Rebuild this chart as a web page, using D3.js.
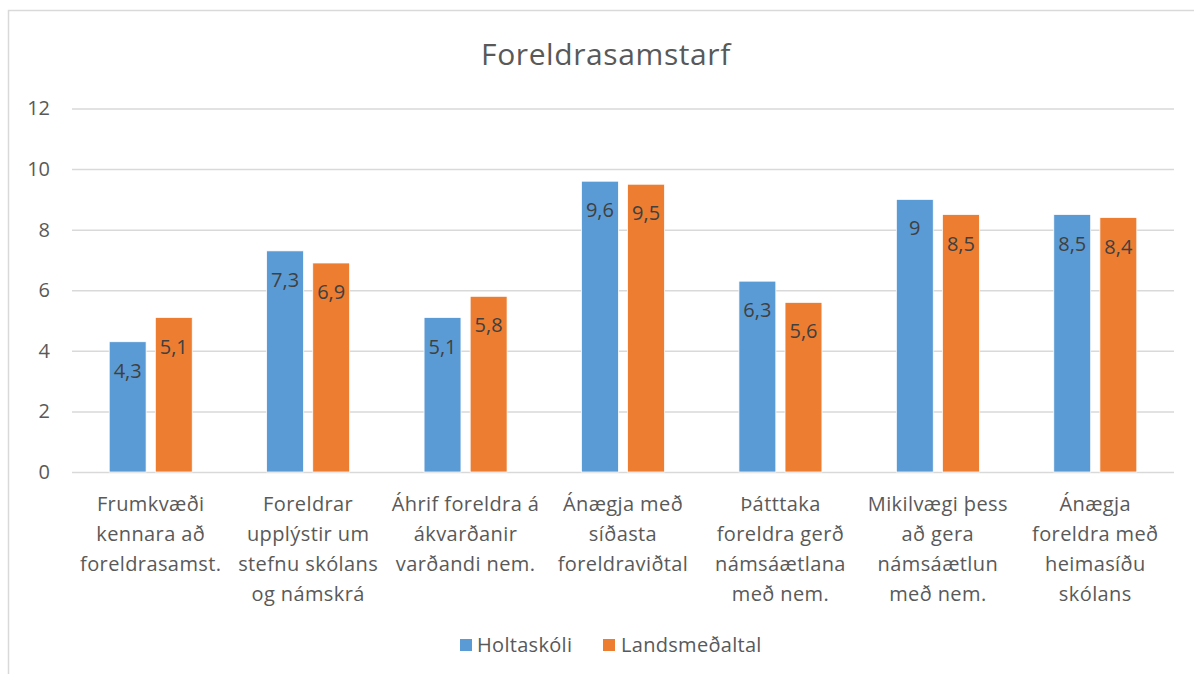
<!DOCTYPE html>
<html><head><meta charset="utf-8">
<script src="https://cdn.jsdelivr.net/npm/d3@7"></script>
<style>body{margin:0;background:#fff}svg{display:block;font-family:"Open Sans",sans-serif}</style>
</head><body>
<svg id="c" width="1194" height="674"></svg>
<script>
const categories = [
  ["Frumkvæði","kennara að","foreldrasamst."],
  ["Foreldrar","upplýstir um","stefnu skólans","og námskrá"],
  ["Áhrif foreldra á","ákvarðanir","varðandi nem."],
  ["Ánægja með","síðasta","foreldraviðtal"],
  ["Þátttaka","foreldra gerð","námsáætlana","með nem."],
  ["Mikilvægi þess","að gera","námsáætlun","með nem."],
  ["Ánægja","foreldra með","heimasíðu","skólans"]
];
const seriesNames = ["Holtaskóli","Landsmeðaltal"];
const holtaskoli = [4.3,7.3,5.1,9.6,6.3,9,8.5];
const landsmedaltal = [5.1,6.9,5.8,9.5,5.6,8.5,8.4];
const yTicks = [0,2,4,6,8,10,12];
const colors = ["#5B9BD5","#ED7D31"];
const title = "Foreldrasamstarf";

const svg = d3.select("#c");
// outer frame
svg.append("rect").attr("x",8.5).attr("y",10.5).attr("width",1200).attr("height",700)
  .attr("fill","none").attr("stroke","#d9d9d9").attr("stroke-width",1.5);

const pL=72,pR=1174,pT=108.5,pB=472;
const x0 = d3.scaleBand().domain(d3.range(categories.length)).range([pL,pR]).paddingInner(0).paddingOuter(0);
const y = d3.scaleLinear().domain([0,12]).range([pB,pT]);
const groupW = 83, bw = x0.bandwidth();
const x1 = d3.scaleBand().domain([0,1]).range([(bw-groupW)/2,(bw+groupW)/2]).paddingInner(0.2).paddingOuter(0);

svg.append("text").attr("x",606).attr("y",65).attr("text-anchor","middle")
  .attr("font-size",30).attr("letter-spacing",0.6).attr("fill","#595959").text(title);

// grid
const yAxis = d3.axisLeft(y).tickValues(yTicks).tickSize(-(pR-pL)).tickPadding(22).tickFormat(d3.format("d"));
const ga = svg.append("g").attr("transform",`translate(${pL},0)`).call(yAxis);
ga.select(".domain").remove();
ga.selectAll(".tick line").attr("stroke","#d9d9d9").attr("stroke-width",1.5);
ga.selectAll(".tick text").attr("fill","#595959").attr("font-size",20).attr("font-family","Open Sans");

const data = categories.map((c,i)=>({i,vals:[holtaskoli[i],landsmedaltal[i]]}));
const g = svg.selectAll("g.cat").data(data).join("g").attr("class","cat")
  .attr("transform",d=>`translate(${x0(d.i)},0)`);
g.selectAll("rect").data(d=>d.vals.map((v,s)=>({v,s}))).join("rect")
  .attr("x",d=>x1(d.s)).attr("width",x1.bandwidth())
  .attr("y",d=>y(d.v)).attr("height",d=>pB-y(d.v))
  .attr("fill",d=>colors[d.s]).attr("stroke","#fff").attr("stroke-width",0.75);
g.selectAll("text.lbl").data(d=>d.vals.map((v,s)=>({v,s}))).join("text").attr("class","lbl")
  .attr("x",d=>x1(d.s)+x1.bandwidth()/2).attr("y",d=>y(d.v)+36)
  .attr("text-anchor","middle").attr("font-size",20).attr("fill","#404040")
  .text(d=>String(d.v).replace(".",","));

// category labels
const cl = svg.selectAll("text.catl").data(categories).join("text").attr("class","catl")
  .attr("text-anchor","middle").attr("font-size",20).attr("letter-spacing",0.4).attr("fill","#595959");
cl.each(function(lines,i){
  d3.select(this).selectAll("tspan").data(lines).join("tspan")
    .attr("x",x0(i)+x0.bandwidth()/2).attr("y",(d,k)=>511+k*30).text(d=>d);
});

// legend
const leg = svg.append("g");
const items=[{x:460,tx:477},{x:603,tx:621}];
seriesNames.forEach((n,s)=>{
  leg.append("rect").attr("x",items[s].x).attr("y",639).attr("width",12).attr("height",12).attr("fill",colors[s]);
  leg.append("text").attr("x",items[s].tx).attr("y",652).attr("font-size",20).attr("letter-spacing",0.3).attr("fill","#595959").text(n);
});
</script>
</body></html>
